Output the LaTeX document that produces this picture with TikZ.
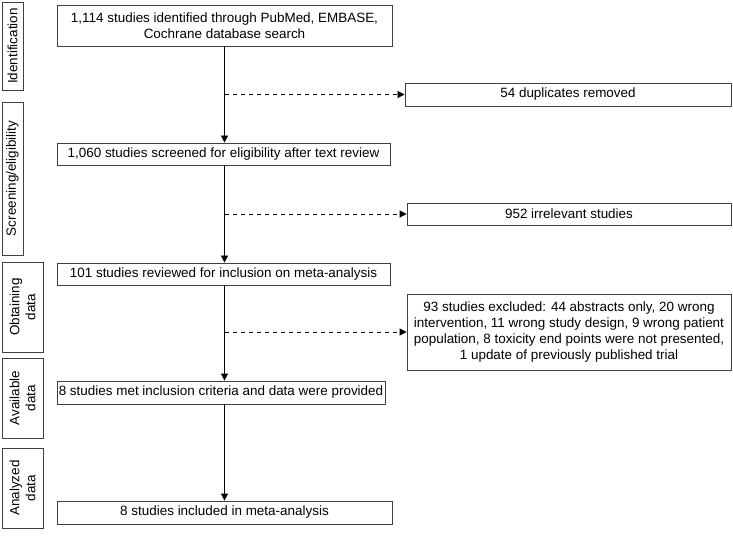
\documentclass[tikz,border=0pt]{standalone}
\usepackage{fontspec}
\setmainfont{Liberation Sans}
\usetikzlibrary{arrows.meta}
\begin{document}
\begin{tikzpicture}[x=1bp,y=-1bp,
  every node/.style={font=\fontsize{13.5}{16}\selectfont},
  box/.style={draw=black!75,line width=0.8bp,inner sep=0pt,align=center},
  side/.style={box,rotate=90},
  flow/.style={line width=0.8bp,-{Triangle[length=7bp,width=7bp]}},
  side flow/.style={flow,dash pattern=on 4bp off 4bp}]
\useasboundingbox (0,0) rectangle (733,549);
% phase labels
\node[side,minimum width=88bp,minimum height=21bp] (L1) at (12.5,46) {Identification};
\node[side,minimum width=153bp,minimum height=21bp] (L2) at (12.5,178.5) {Screening/eligibility};
\node[side,minimum width=90bp,minimum height=41bp] (L3) at (22.5,307) {Obtaining\\data};
\node[side,minimum width=80bp,minimum height=41bp] (L4) at (22.5,398) {Available\\data};
\node[side,minimum width=80bp,minimum height=41bp] (L5) at (22.5,488) {Analyzed\\data};
% main boxes
\node[box,minimum width=335bp,minimum height=41bp] (B1) at (224.5,25.5) {1,114 studies identified through PubMed, EMBASE,\\Cochrane database search};
\node[box,minimum width=333bp,minimum height=22bp] (B2) at (223.5,154) {1,060 studies screened for eligibility after text review};
\node[box,minimum width=333bp,minimum height=22bp] (B3) at (223.5,274) {101 studies reviewed for inclusion on meta-analysis};
\node[box,minimum width=328bp,minimum height=23bp] (B4) at (221,392.5) {8 studies met inclusion criteria and data were provided};
\node[box,minimum width=335bp,minimum height=23bp] (B5) at (224.5,512.5) {8 studies included in meta-analysis};
% excluded boxes
\node[box,minimum width=326bp,minimum height=23bp] (R1) at (568,94.5) {54 duplicates removed};
\node[box,minimum width=324bp,minimum height=22bp] (R2) at (569,214) {952 irrelevant studies};
\node[box,minimum width=324bp,minimum height=76bp] (R3) at (569,332) {93 studies excluded: 44 abstracts only, 20 wrong\\intervention, 11 wrong study design, 9 wrong patient\\population, 8 toxicity end points were not presented,\\1 update of previously published trial};
% connectors
\draw[flow] (B1.south) -- (B1.south |- B2.north);
\draw[flow] (B1.south |- B2.south) -- (B1.south |- B3.north);
\draw[flow] (B1.south |- B3.south) -- (B1.south |- B4.north);
\draw[flow] (B1.south |- B4.south) -- (B1.south |- B5.north);
\draw[side flow] (B1.south |- R1.west) -- (R1.west);
\draw[side flow] (B1.south |- R2.west) -- (R2.west);
\draw[side flow] (B1.south |- R3.west) -- (R3.west);
\end{tikzpicture}
\end{document}
